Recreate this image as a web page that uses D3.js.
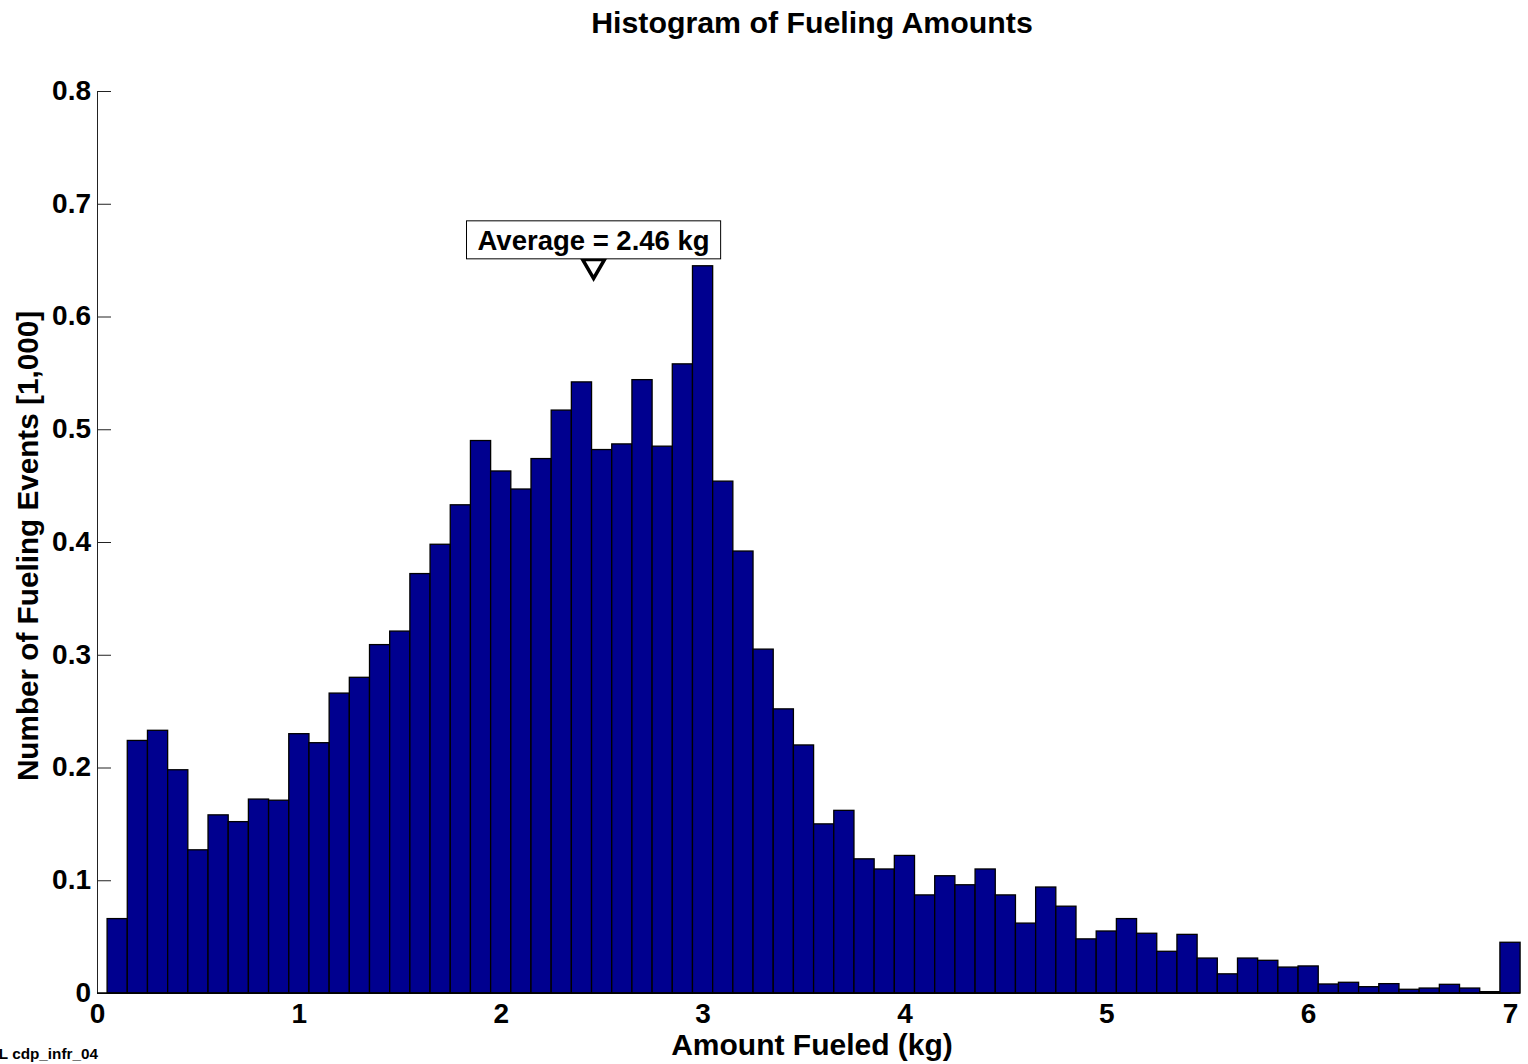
<!DOCTYPE html>
<html>
<head>
<meta charset="utf-8">
<script src="https://cdn.jsdelivr.net/npm/d3@7"></script>
<style>
  html, body { margin: 0; padding: 0; background: #fff; }
  svg { display: block; font-family: "Liberation Sans", Arial, sans-serif; font-weight: bold; }
</style>
</head>
<body>
<svg id="chart" width="1528" height="1064"></svg>
<script>
// ---- data ----
const binCenters = [0.1,0.2,0.3,0.4,0.5,0.6,0.7,0.8,0.9,1.0,
  1.1,1.2,1.3,1.4,1.5,1.6,1.7,1.8,1.9,2.0,
  2.1,2.2,2.3,2.4,2.5,2.6,2.7,2.8,2.9,3.0,
  3.1,3.2,3.3,3.4,3.5,3.6,3.7,3.8,3.9,4.0,
  4.1,4.2,4.3,4.4,4.5,4.6,4.7,4.8,4.9,5.0,
  5.1,5.2,5.3,5.4,5.5,5.6,5.7,5.8,5.9,6.0,
  6.1,6.2,6.3,6.4,6.5,6.6,6.7,6.8,6.9,7.0];
const counts = [0.066,0.224,0.233,0.198,0.127,0.158,0.152,0.172,0.171,0.230,
  0.222,0.266,0.280,0.309,0.321,0.372,0.398,0.433,0.490,0.463,
  0.447,0.474,0.517,0.542,0.482,0.487,0.544,0.485,0.558,0.645,
  0.454,0.392,0.305,0.252,0.220,0.150,0.162,0.119,0.110,0.122,
  0.087,0.104,0.096,0.110,0.087,0.062,0.094,0.077,0.048,0.055,
  0.066,0.053,0.037,0.052,0.031,0.017,0.031,0.029,0.023,0.024,
  0.008,0.0095,0.0056,0.0083,0.0033,0.0044,0.0077,0.0044,0.0012,0.045];
const binWidth = 0.1;
const xTicks = [0,1,2,3,4,5,6,7];
const yTicks = [0,0.1,0.2,0.3,0.4,0.5,0.6,0.7,0.8];
const avgValue = 2.46;
const avgMarkerY = 0.645;
const avgLabelY = 0.668;
const titleText = "Histogram of Fueling Amounts";
const xLabel = "Amount Fueled (kg)";
const yLabel = "Number of Fueling Events [1,000]";
const footText = "NREL cdp_infr_04";

// ---- layout ----
const svg = d3.select("#chart");
const x = d3.scaleLinear().domain([0, 7]).range([97, 1510]);
const y = d3.scaleLinear().domain([0, 0.8]).range([993, 91]);

// axes
const yAxis = d3.axisLeft(y).tickValues(yTicks).tickSizeInner(-14).tickSizeOuter(0).tickPadding(6)
  .tickFormat(d => d === 0 ? "0" : d3.format(".1f")(d));
const gy = svg.append("g").attr("transform", `translate(${x(0)},0)`).call(yAxis);
gy.selectAll("text").attr("font-size", 28).attr("font-family", "Liberation Sans, Arial, sans-serif")
  .attr("font-weight", "bold").attr("fill", "#000").attr("dy", "0.3em");
gy.selectAll("line, path").attr("stroke", "#222").attr("stroke-width", 1);

const xAxis = d3.axisBottom(x).tickValues(xTicks).tickSizeInner(-14).tickSizeOuter(0).tickPadding(10)
  .tickFormat(d3.format("d"));
const gx = svg.append("g").attr("transform", `translate(0,${y(0)})`).call(xAxis);
gx.selectAll("text").attr("font-size", 28).attr("font-family", "Liberation Sans, Arial, sans-serif")
  .attr("font-weight", "bold").attr("fill", "#000");
gx.selectAll("line, path").attr("stroke", "#222").attr("stroke-width", 1);

// bars
svg.append("g").selectAll("rect").data(binCenters).join("rect")
  .attr("x", (d) => x(d - binWidth / 2))
  .attr("width", (d) => x(d + binWidth / 2) - x(d - binWidth / 2))
  .attr("y", (d, i) => y(counts[i]))
  .attr("height", (d, i) => y(0) - y(counts[i]))
  .attr("fill", "#00008F")
  .attr("stroke", "#000")
  .attr("stroke-width", 1.3);

// baseline
svg.append("line")
  .attr("x1", x(0)).attr("x2", x(binCenters[binCenters.length - 1] + binWidth / 2))
  .attr("y1", y(0)).attr("y2", y(0))
  .attr("stroke", "#000").attr("stroke-width", 1.5);

// average marker
svg.append("path")
  .attr("d", d3.symbol().type(d3.symbolTriangle).size(210)())
  .attr("transform", `translate(${x(avgValue)},${y(avgMarkerY)}) rotate(180)`)
  .attr("fill", "#fff").attr("stroke", "#000").attr("stroke-width", 3.5);

const ann = svg.append("g");
const annText = ann.append("text")
  .attr("x", x(avgValue)).attr("y", y(avgLabelY))
  .attr("text-anchor", "middle").attr("dy", "0.36em")
  .attr("font-size", 27.5).attr("fill", "#000")
  .text(`Average = ${avgValue} kg`);
const bb = annText.node().getBBox();
ann.insert("rect", "text")
  .attr("x", bb.x - 11).attr("width", bb.width + 22)
  .attr("y", y(avgLabelY) - 19).attr("height", 38)
  .attr("fill", "#fff").attr("stroke", "#000").attr("stroke-width", 1);

// title and labels
svg.append("text").attr("x", 812).attr("y", 33).attr("text-anchor", "middle")
  .attr("font-size", 30.3).attr("fill", "#000").text(titleText);
svg.append("text").attr("x", 812).attr("y", 1055).attr("text-anchor", "middle")
  .attr("font-size", 30).attr("fill", "#000").text(xLabel);
svg.append("text").attr("transform", "translate(38,546) rotate(-90)").attr("text-anchor", "middle")
  .attr("font-size", 29.7).attr("fill", "#000").text(yLabel);
svg.append("text").attr("x", 98).attr("y", 1059).attr("text-anchor", "end")
  .attr("font-size", 15.3).attr("fill", "#000").text(footText);
</script>
</body>
</html>
